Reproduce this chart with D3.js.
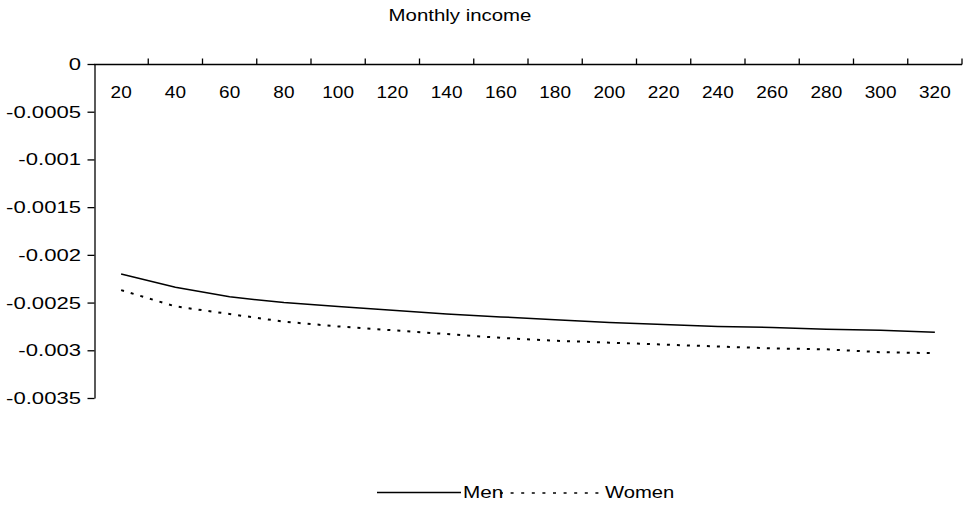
<!DOCTYPE html>
<html>
<head>
<meta charset="utf-8">
<script src="https://cdn.jsdelivr.net/npm/d3@7"></script>
<style>
  html, body { margin: 0; padding: 0; background: #fff; }
  svg { display: block; font-family: "Liberation Sans", Arial, sans-serif; }
  text { fill: #000; }
</style>
</head>
<body>
<svg id="chart" width="969" height="505"></svg>
<script>
// Monthly income categories and the two series
const incomes = [20, 40, 60, 80, 100, 120, 140, 160, 180, 200, 220, 240, 260, 280, 300, 320];
const men = [-0.00220, -0.00234, -0.00244, -0.00250, -0.00254, -0.00258, -0.00262, -0.00265,
             -0.00268, -0.00271, -0.00273, -0.00275, -0.00276, -0.00278, -0.00279, -0.00281];
const women = [-0.00237, -0.00254, -0.00262, -0.00270, -0.00275, -0.00279, -0.00283, -0.00287,
               -0.00290, -0.00292, -0.00294, -0.00296, -0.00298, -0.00299, -0.00302, -0.00303];
const yTicks = [0, -0.0005, -0.001, -0.0015, -0.002, -0.0025, -0.003, -0.0035];
const yTickLabels = ["0", "-0.0005", "-0.001", "-0.0015", "-0.002", "-0.0025", "-0.003", "-0.0035"];
const seriesNames = ["Men", "Women"];
const title = "Monthly income";

const svg = d3.select("#chart");
const plotLeft = 94, plotRight = 962, plotTop = 64, plotBottom = 398;

const x = d3.scaleBand().domain(incomes).range([plotLeft, plotRight]).padding(0);
const y = d3.scaleLinear().domain([-0.0035, 0]).range([plotBottom, plotTop]);

// horizontally widened text, as in the original typesetting
function wideText(sel, px, py, str, size, sx, anchor) {
  sel.append("g")
    .attr("transform", `translate(${px},${py}) scale(${sx},1)`)
    .append("text")
    .attr("font-size", size)
    .attr("text-anchor", anchor || "start")
    .text(str);
}

// title
wideText(svg, 460, 21, title, 17, 1.2, "middle");

// y axis
const yAxis = svg.append("g")
  .attr("transform", `translate(${plotLeft + 0.5},0)`)
  .call(d3.axisLeft(y).tickValues(yTicks).tickSize(7).tickSizeOuter(0).tickFormat(""));
yAxis.select(".domain").attr("stroke", "#000").attr("stroke-width", 1.3);
yAxis.selectAll(".tick line").attr("stroke", "#000").attr("stroke-width", 1.3);
yTicks.forEach((v, i) => {
  wideText(svg, 81, y(v) + 6, yTickLabels[i], 17, 1.3, "end");
});

// x axis along the zero line, tick marks at category boundaries pointing up
const xAxisG = svg.append("g").attr("transform", `translate(0,${y(0) + 0.5})`);
xAxisG.append("line")
  .attr("x1", plotLeft).attr("x2", plotRight)
  .attr("stroke", "#000").attr("stroke-width", 1.3);
const bounds = incomes.map(c => x(c)).concat([x.range()[1]]);
xAxisG.selectAll("line.bt")
  .data(bounds.slice(1))
  .join("line")
  .attr("class", "bt")
  .attr("x1", d => d).attr("x2", d => d)
  .attr("y1", 0).attr("y2", -6)
  .attr("stroke", "#000").attr("stroke-width", 1.3);
incomes.forEach(c => {
  wideText(svg, x(c) + x.bandwidth() / 2, y(0) + 34, String(c), 16.5, 1.15, "middle");
});

// series lines
const line = d3.line()
  .x((d, i) => x(incomes[i]) + x.bandwidth() / 2)
  .y(d => y(d));

svg.append("path")
  .datum(men)
  .attr("d", line)
  .attr("fill", "none")
  .attr("stroke", "#000")
  .attr("stroke-width", 1.5);

svg.append("path")
  .datum(women)
  .attr("d", line)
  .attr("fill", "none")
  .attr("stroke", "#000")
  .attr("stroke-width", 2)
  .attr("stroke-dasharray", "3,7");

// legend
const lg = svg.append("g");
lg.append("line")
  .attr("x1", 377).attr("x2", 461).attr("y1", 492.5).attr("y2", 492.5)
  .attr("stroke", "#000").attr("stroke-width", 1.3);
wideText(lg, 463, 498, seriesNames[0], 17, 1.22, "start");
lg.append("line")
  .attr("x1", 500).attr("x2", 602).attr("y1", 493).attr("y2", 493)
  .attr("stroke", "#000").attr("stroke-width", 1.5)
  .attr("stroke-dasharray", "3,7.6");
wideText(lg, 605, 498, seriesNames[1], 17, 1.19, "start");
</script>
</body>
</html>
